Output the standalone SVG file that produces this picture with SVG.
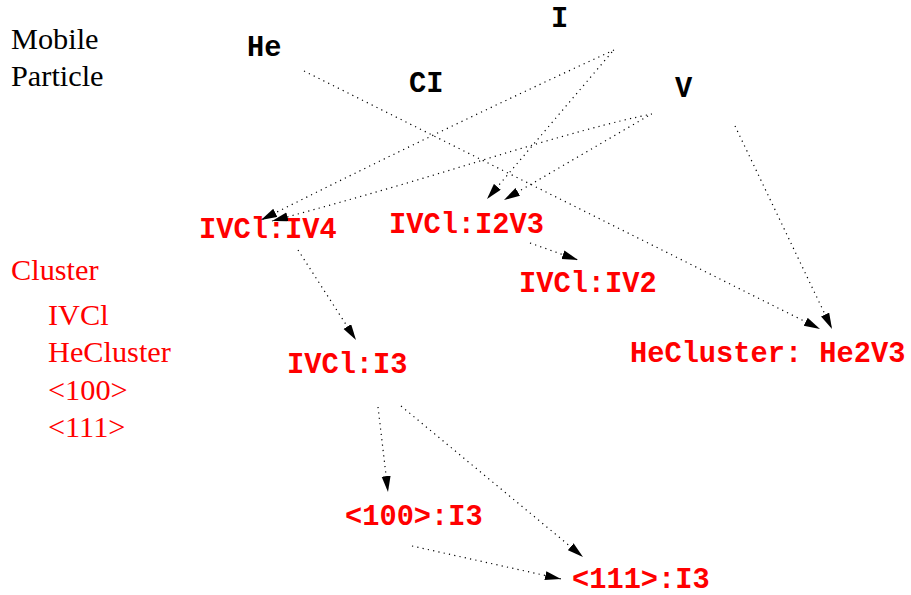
<svg xmlns="http://www.w3.org/2000/svg" width="911" height="595" viewBox="0 0 911 595">
  <style>
    .mono { font-family: "Liberation Mono", "Courier New", monospace; font-weight: bold; font-size: 28.7px; }
    .serif { font-family: "Liberation Serif", "Times New Roman", serif; font-size: 30.3px; }
    .black { fill: #000; }
    .red { fill: #ff0000; }
    .edge { fill: none; stroke: #000; stroke-width: 1.2; stroke-dasharray: 1.2 4.2; marker-end: url(#arrow); }
  </style>
  <defs>
    <marker id="arrow" markerUnits="userSpaceOnUse" markerWidth="18" markerHeight="10" refX="16" refY="4.5" orient="auto">
      <path d="M0,0 L16,4.5 L0,9 Z" fill="#000"/>
    </marker>
  </defs>
  <rect width="911" height="595" fill="#fff"/>

  <!-- legend -->
  <g id="legend-mobile">
    <text class="serif black" x="11" y="49">Mobile</text>
    <text class="serif black" x="11" y="86">Particle</text>
  </g>
  <g id="legend-cluster">
    <text class="serif red" x="11" y="280">Cluster</text>
    <text class="serif red" x="48" y="325">IVCl</text>
    <text class="serif red" x="48" y="362">HeCluster</text>
    <text class="serif red" x="48" y="400">&lt;100&gt;</text>
    <text class="serif red" x="48" y="437">&lt;111&gt;</text>
  </g>

  <!-- mobile particles -->
  <g id="node-He"><text class="mono black" x="247" y="56">He</text></g>
  <g id="node-I"><text class="mono black" x="551" y="27">I</text></g>
  <g id="node-CI"><text class="mono black" x="409" y="92">CI</text></g>
  <g id="node-V"><text class="mono black" x="675" y="97">V</text></g>

  <!-- clusters -->
  <g id="node-IVCl-IV4"><text class="mono red" x="199" y="238">IVCl:IV4</text></g>
  <g id="node-IVCl-I2V3"><text class="mono red" x="389" y="233">IVCl:I2V3</text></g>
  <g id="node-IVCl-IV2"><text class="mono red" x="519" y="292">IVCl:IV2</text></g>
  <g id="node-IVCl-I3"><text class="mono red" x="287" y="373">IVCl:I3</text></g>
  <g id="node-HeCluster-He2V3"><text class="mono red" x="630" y="362">HeCluster: He2V3</text></g>
  <g id="node-100-I3"><text class="mono red" x="345" y="525">&lt;100&gt;:I3</text></g>
  <g id="node-111-I3"><text class="mono red" x="572" y="588">&lt;111&gt;:I3</text></g>

  <!-- connectors -->
  <g id="connectors">
    <path class="edge" d="M304,71 L820,329"/>
    <path class="edge" d="M614,50 Q440,130 261,220"/>
    <path class="edge" d="M612,52 L487,199"/>
    <path class="edge" d="M652,114 Q600,124 483,160 Q380,192 272,221"/>
    <path class="edge" d="M648,116 L504,200"/>
    <path class="edge" d="M735,126 L832,329"/>
    <path class="edge" d="M298,250 L356,340"/>
    <path class="edge" d="M530,243 L578,260"/>
    <path class="edge" d="M378,407 L388,492"/>
    <path class="edge" d="M401,406 L583,557"/>
    <path class="edge" d="M412,546 L561,579"/>
  </g>
</svg>
